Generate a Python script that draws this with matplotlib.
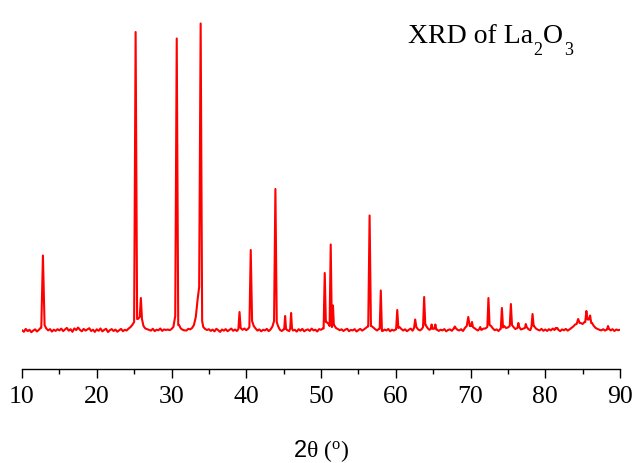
import numpy as np
import matplotlib
matplotlib.use('Agg')
import matplotlib.pyplot as plt
from matplotlib.ticker import MultipleLocator

plt.rcParams['font.family'] = ['Liberation Serif', 'DejaVu Sans']
plt.rcParams['mathtext.fontset'] = 'custom'
plt.rcParams['mathtext.rm'] = 'Liberation Serif'
plt.rcParams['mathtext.it'] = 'Liberation Serif:italic'
plt.rcParams['mathtext.sf'] = 'Liberation Sans'

# background counts, one value every 0.25 deg (10 -> 90)
bg_counts = [
    388, 372, 401, 379, 392, 368, 384, 397, 375, 392, 412, 430, 438, 405, 386, 399, 374, 393, 381, 398,  # 10
    386, 404, 379, 395, 411, 383, 398, 372, 406, 389, 415, 392, 377, 401, 384, 396, 408, 380, 393, 371,  # 15
    397, 382, 405, 376, 391, 402, 369, 388, 399, 380, 394, 373, 387, 401, 378, 392, 385, 404, 418, 440,  # 20
    470, 500, 500, 520, 500, 430, 405, 398, 390, 384, 402, 379, 393, 387, 405, 381, 396, 390, 395, 388,  # 25
    400, 420, 530, 560, 440, 405, 392, 386, 385, 402, 396, 410, 440, 520, 700, 820, 480, 420, 400, 390,  # 30
    398, 381, 394, 376, 402, 388, 371, 395, 383, 399, 378, 391, 404, 382, 395, 380, 400, 410, 392, 405,  # 35
    388, 402, 420, 480, 430, 405, 384, 396, 377, 392, 386, 401, 379, 395, 425, 480, 470, 430, 392, 380,  # 40
    396, 402, 388, 379, 405, 385, 392, 374, 398, 383, 401, 377, 390, 396, 381, 404, 386, 393, 375, 399,  # 45
    392, 405, 420, 470, 450, 430, 420, 440, 410, 400, 388, 397, 380, 394, 402, 378, 391, 386, 399, 375,  # 50
    389, 401, 384, 396, 410, 425, 440, 430, 415, 398, 385, 402, 410, 380, 394, 385, 400, 377, 393, 384,  # 55
    396, 410, 420, 400, 385, 397, 378, 392, 404, 383, 410, 420, 395, 386, 401, 420, 440, 410, 392, 400,  # 60
    402, 404, 395, 381, 393, 386, 399, 377, 390, 396, 382, 404, 410, 392, 385, 398, 380, 410, 430, 440,  # 65
    430, 420, 410, 396, 385, 400, 392, 404, 405, 420, 440, 430, 405, 388, 396, 380, 401, 415, 430, 410,  # 70
    415, 430, 440, 420, 400, 410, 420, 395, 402, 410, 420, 398, 388, 420, 430, 405, 393, 386, 401, 382,  # 75
    395, 381, 398, 386, 404, 390, 410, 392, 379, 396, 387, 401, 384, 396, 410, 425, 445, 450, 460, 460,  # 80
    450, 470, 480, 495, 470, 460, 430, 410, 400, 392, 386, 398, 384, 395, 402, 386, 398, 380, 395, 388,  # 85
    392,
]

# diffraction peaks: position (2theta), top counts, half base width
peak_pos = [12.8, 25.2, 25.9, 30.7, 33.9, 39.1, 40.6, 43.9, 45.2, 46.0, 50.5,
            51.3, 51.6, 56.5, 58.0, 60.2, 62.6, 63.8, 64.8, 65.3, 67.9, 69.7, 70.2,
            71.3, 72.4, 74.2, 75.4, 76.4, 77.4, 78.3, 81.5, 84.4, 85.5, 86.0, 88.4]
peak_top = [1135, 3370, 710, 3305, 3455, 570, 1190, 1800, 530, 560, 960,
            1245, 635, 1535, 785, 590, 495, 720, 445, 445, 425, 520, 470,
            420, 710, 610, 650, 460, 450, 550, 405, 500, 580, 535, 430]
peak_hw = [0.22, 0.2, 0.15, 0.2, 0.2, 0.15, 0.18, 0.18, 0.12, 0.12, 0.15,
           0.15, 0.12, 0.18, 0.15, 0.15, 0.15, 0.15, 0.12, 0.12, 0.12, 0.2, 0.12,
           0.12, 0.15, 0.15, 0.15, 0.12, 0.12, 0.15, 0.12, 0.2, 0.15, 0.15, 0.12]

bg_2theta = np.linspace(10, 90, len(bg_counts))
bg_counts = np.array(bg_counts, dtype=float)

# put the peaks into the background trace
keep = np.ones(len(bg_2theta), dtype=bool)
px, py = [], []
for c, top, hw in zip(peak_pos, peak_top, peak_hw):
    keep &= np.abs(bg_2theta - c) > hw + 1e-6
    for foot in (c - hw, c + hw):
        px.append(foot)
        py.append(bg_counts[np.argmin(np.abs(bg_2theta - foot))])
    px.append(c)
    py.append(top)

x = np.concatenate([bg_2theta[keep], px])
y = np.concatenate([bg_counts[keep], py])
order = np.argsort(x, kind='stable')
x, y = x[order], y[order]

fig = plt.figure(figsize=(6.37, 4.64), dpi=100)
ax = fig.add_axes([22 / 637, 1 - 370 / 464, 598 / 637, 370 / 464])
ax.plot(x, y, color='#ff0000', lw=1.5)

ax.set_xlim(10, 90)
ax.set_ylim(0, 3700)
for s in ('left', 'top', 'right'):
    ax.spines[s].set_visible(False)
ax.spines['bottom'].set_linewidth(1.0)
ax.set_yticks([])
ax.xaxis.set_major_locator(MultipleLocator(10))
ax.xaxis.set_minor_locator(MultipleLocator(5))
ax.tick_params(axis='x', which='major', direction='out', length=6.5, width=1.0,
               labelsize=18.5, pad=5)
ax.tick_params(axis='x', which='minor', direction='out', length=3.6, width=1.0)

fig.text(321 / 637, 1 - 457 / 464, r'$\mathsf{2}\mathrm{\theta}\ \mathrm{(}^{\mathrm{o}}\mathrm{)}$',
         ha='center', va='baseline', fontsize=17)

# title with dropped subscripts, laid out piece by piece
renderer = fig.canvas.get_renderer()
tx = 408 / 637
for part, size, drop in [('XRD of La', 20, 0), ('2', 13, 12), ('O', 20, 0), ('3', 13, 12)]:
    t = fig.text(tx, 1 - (43 + drop) / 464, part, ha='left', va='baseline', fontsize=size)
    tx += t.get_window_extent(renderer).width / 637 + 0.5 / 637

fig.savefig('out.png', dpi=100)
